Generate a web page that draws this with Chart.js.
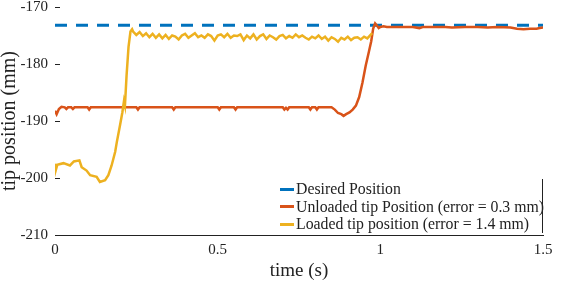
<!DOCTYPE html>
<html>
<head>
<meta charset="utf-8">
<script src="https://cdn.jsdelivr.net/npm/chart.js@4/dist/chart.umd.min.js"></script>
<style>
  html, body { margin: 0; padding: 0; background: #fff; }
  #wrap { position: relative; width: 562px; height: 302px; }
  #legend {
    position: absolute; left: 278px; top: 179px; width: 265px; height: 54px;
    border-right: 1px solid #222; box-sizing: border-box;
    font-family: "Liberation Serif", "Times New Roman", serif; font-size: 15.8px; color: #222;
    padding-top: 1px;
  }
  #legend div { height: 17.5px; line-height: 17.5px; white-space: nowrap; }
  #legend span { display: inline-block; width: 14px; height: 3px; vertical-align: middle; margin: 0 2px 2px 2px; }
</style>
</head>
<body>
<div id="wrap">
  <canvas id="c" width="562" height="302"></canvas>
  <div id="legend"></div>
</div>
<script>
// 数据：时间 (s) 与末端位置 (mm)
const seriesNames = ['Desired Position', 'Unloaded tip Position (error = 0.3 mm)', 'Loaded tip position (error = 1.4 mm)'];
const seriesColors = ['#0072BD', '#D95319', '#EDB120'];

const desiredT = [0, 1.5];
const desiredY = [-173.2, -173.2];

const unloadedT = [0, 0.005, 0.012, 0.02, 0.03, 0.035, 0.04, 0.05, 0.055, 0.06, 0.1, 0.105, 0.11,
  0.25, 0.255, 0.26, 0.36, 0.365, 0.37, 0.5, 0.505, 0.51, 0.55, 0.555, 0.56, 0.7, 0.705, 0.71, 0.715, 0.72,
  0.78, 0.785, 0.79, 0.8, 0.805, 0.81, 0.85, 0.86, 0.87, 0.88, 0.887, 0.895, 0.905, 0.915, 0.925, 0.935,
  0.945, 0.955, 0.965, 0.972, 0.978, 0.984, 0.99, 0.995, 1.0, 1.01, 1.02, 1.1, 1.12, 1.13, 1.2, 1.22,
  1.26, 1.3, 1.33, 1.36, 1.4, 1.42, 1.44, 1.46, 1.48, 1.49, 1.5];
const unloadedY = [-188.2, -188.8, -187.9, -187.5, -187.6, -187.9, -187.6, -187.6, -187.9, -187.6, -187.6, -188.0, -187.6,
  -187.6, -188.0, -187.6, -187.6, -188.0, -187.6, -187.6, -188.0, -187.6, -187.6, -188.0, -187.6, -187.6, -188.0, -187.7, -188.0, -187.6,
  -187.6, -188.0, -187.6, -187.6, -188.0, -187.6, -187.6, -188.0, -188.6, -188.8, -189.1, -188.8, -188.5, -188.0, -187.3, -185.8,
  -183.3, -180.3, -177.8, -176.0, -173.8, -172.9, -173.3, -173.7, -173.5, -173.4, -173.5, -173.5, -173.7, -173.5, -173.5, -173.6,
  -173.5, -173.5, -173.6, -173.5, -173.6, -173.8, -173.9, -173.8, -173.8, -173.7, -173.6];

const loadedT = [0, 0.003, 0.007, 0.026, 0.046, 0.058, 0.075, 0.082, 0.097, 0.108, 0.128, 0.138, 0.154, 0.164,
  0.174, 0.185, 0.19, 0.2, 0.207, 0.212, 0.215, 0.22, 0.226, 0.232, 0.237,
  0.24, 0.25, 0.26, 0.27, 0.28, 0.29, 0.30, 0.31, 0.32, 0.33, 0.34, 0.35, 0.36, 0.37, 0.38, 0.39,
  0.40, 0.41, 0.42, 0.43, 0.44, 0.45, 0.46, 0.47, 0.48, 0.49, 0.50, 0.51, 0.52, 0.53, 0.54, 0.55,
  0.56, 0.57, 0.58, 0.59, 0.60, 0.61, 0.62, 0.63, 0.64, 0.65, 0.66, 0.67, 0.68, 0.69, 0.70, 0.71,
  0.72, 0.73, 0.74, 0.75, 0.76, 0.77, 0.78, 0.79, 0.80, 0.81, 0.82, 0.83, 0.84, 0.85, 0.86, 0.87,
  0.88, 0.89, 0.90, 0.91, 0.92, 0.93, 0.94, 0.95, 0.96, 0.97, 0.975];
const loadedY = [-197.5, -198.5, -197.7, -197.4, -197.8, -197.1, -196.9, -198.1, -198.7, -199.5, -199.8, -200.7, -200.4, -199.5,
  -197.8, -195.4, -193.7, -190.7, -188.5, -186.5, -187.3, -182.0, -177.0, -174.3, -173.9,
  -174.3, -174.9, -174.4, -175.1, -174.6, -175.3, -174.7, -175.4, -174.8, -175.5, -174.9, -175.6, -175.0, -175.2, -175.7, -175.0,
  -174.7, -175.4, -175.0, -174.6, -175.3, -175.0, -175.4, -174.8, -175.1, -175.9, -175.0, -174.8, -175.3, -174.7, -175.4, -175.0,
  -175.1, -174.8, -175.8, -175.0, -175.5, -174.8, -175.7, -175.1, -174.8, -175.6, -175.0, -175.3, -175.7, -175.1, -174.9, -175.5,
  -175.1, -175.4, -174.8, -175.3, -175.0, -175.4, -175.7, -175.2, -175.5, -175.0, -175.6, -175.2, -175.9, -175.3, -175.6, -176.1,
  -175.4, -175.7, -175.2, -175.8, -175.4, -175.3, -175.7, -175.2, -175.5, -174.9, -174.6];

const xTickLabels = ['0', '0.5', '1', '1.5'];
const yTickLabels = ['-210', '-200', '-190', '-180', '-170'];

function toPoints(ts, ys) {
  return ts.map((t, i) => ({ x: t, y: ys[i] }));
}

// y轴向内的小刻度
const innerTicks = {
  id: 'innerTicks',
  afterDatasetsDraw(chart) {
    const ctx = chart.ctx;
    const y = chart.scales.y;
    const left = chart.chartArea.left;
    ctx.save();
    ctx.strokeStyle = '#222';
    ctx.lineWidth = 1;
    y.ticks.forEach(t => {
      const py = Math.round(y.getPixelForValue(t.value)) + 0.5;
      ctx.beginPath();
      ctx.moveTo(left, py);
      ctx.lineTo(left + 5, py);
      ctx.stroke();
    });
    ctx.restore();
  }
};

const serif = '"Liberation Serif", "Times New Roman", serif';

new Chart(document.getElementById('c').getContext('2d'), {
  type: 'line',
  data: {
    datasets: [{
      label: seriesNames[0],
      data: toPoints(desiredT, desiredY),
      borderColor: seriesColors[0],
      borderWidth: 3,
      borderDash: [12, 9],
      order: 3
    }, {
      label: seriesNames[1],
      data: toPoints(unloadedT, unloadedY),
      borderColor: seriesColors[1],
      borderWidth: 2.5,
      order: 2
    }, {
      label: seriesNames[2],
      data: toPoints(loadedT, loadedY),
      borderColor: seriesColors[2],
      borderWidth: 2.5,
      order: 1
    }]
  },
  options: {
    responsive: false,
    animation: false,
    layout: { padding: { left: 0, right: 19, top: 7, bottom: 0 } },
    elements: { point: { radius: 0 }, line: { tension: 0 } },
    plugins: { legend: { display: false }, tooltip: { enabled: false } },
    scales: {
      x: {
        type: 'linear',
        min: 0, max: 1.5,
        grid: { display: false, drawTicks: false },
        border: { display: true, color: '#222', width: 1 },
        ticks: {
          stepSize: 0.5, padding: 6, color: '#222',
          font: { family: serif, size: 15 },
          callback: (v, i) => xTickLabels[i]
        },
        title: { display: true, text: 'time (s)', color: '#222', font: { family: serif, size: 19, lineHeight: 1.2 }, padding: { top: 0, bottom: 20 } },
        afterFit(s) { s.height = 67; }
      },
      y: {
        min: -210, max: -170,
        grid: { display: false, drawTicks: false },
        border: { display: false },
        ticks: {
          stepSize: 10, padding: 7, color: '#222',
          font: { family: serif, size: 15 },
          callback: (v, i) => yTickLabels[i]
        },
        title: { display: true, text: 'tip position (mm)', color: '#222', font: { family: serif, size: 20, lineHeight: 1 }, padding: 0 },
        afterFit(s) { s.width = 55; s.paddingTop = 0; s.paddingBottom = 0; }
      }
    }
  },
  plugins: [innerTicks]
});

const legend = document.getElementById('legend');
seriesNames.forEach((name, i) => {
  const row = document.createElement('div');
  row.innerHTML = '<span style="background:' + seriesColors[i] + '"></span>' + name;
  legend.appendChild(row);
});
</script>
</body>
</html>
